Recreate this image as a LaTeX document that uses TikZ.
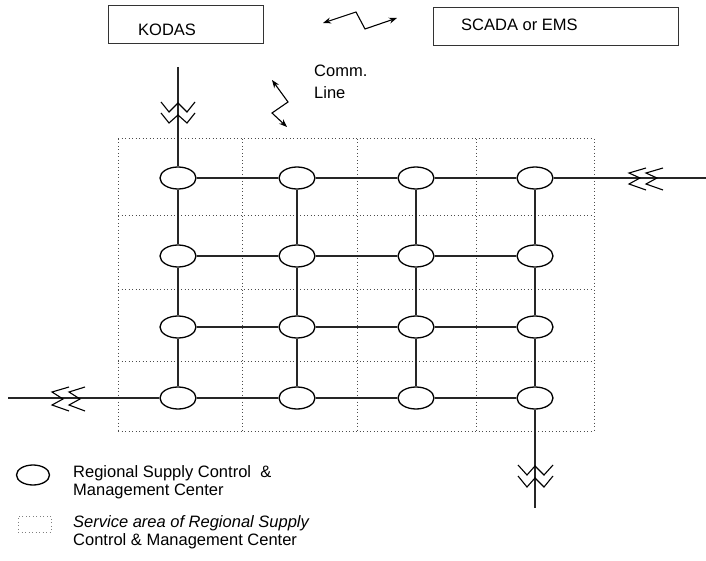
\documentclass[tikz,border=0pt]{standalone}
\usepackage{fontspec}
\setmainfont{Liberation Sans}
\usetikzlibrary{shapes.geometric,arrows.meta}
\begin{document}
\begin{tikzpicture}[x=1pt,y=-1pt,
  line/.style={line width=1.1pt, black!85},
  center/.style={draw=black, line width=1.3pt, ellipse, minimum width=36pt, minimum height=22pt, inner sep=0pt, fill=white},
  sysbox/.style={draw=black!80, line width=1pt, rectangle, inner sep=0pt},
  area/.style={draw=black!70, line width=1pt, dash pattern=on 1pt off 2.5pt},
  brk/.style={line width=1.1pt, black, line join=miter},
  comm/.style={line width=1.1pt, black, {Stealth[length=8pt,width=6pt]}-{Stealth[length=8pt,width=6pt]}},
  lbl/.style={font=\fontsize{16.5}{18}\selectfont, inner sep=0pt, align=left}
]
\useasboundingbox (0,0) rectangle (706,561);

% top systems
\node[sysbox, anchor=north west, minimum width=155pt, minimum height=38pt] (kodas) at (108,5) {};
\node[lbl, anchor=base west] (kodastxt) at (138,36) {KODAS};
\node[sysbox, anchor=north west, minimum width=245pt, minimum height=38pt] (scada) at (433,7) {};
\node[lbl, anchor=base west] (scadatxt) at (461,31) {SCADA or EMS};

% communication lines
\coordinate (c1a) at (323,23);
\coordinate (c1b) at (356,12);
\coordinate (c1c) at (365,29);
\coordinate (c1d) at (397,18);
\draw[comm] (c1a) -- (c1b) -- (c1c) -- (c1d);
\coordinate (c2a) at (272,80);
\coordinate (c2b) at (288,102);
\coordinate (c2c) at (272,113);
\coordinate (c2d) at (287,127);
\draw[comm] (c2a) -- (c2b) -- (c2c) -- (c2d);
\node[lbl, anchor=north west, font=\fontsize{16.5}{22}\selectfont] (commtxt) at (314,64.5) {Comm.\\Line};

% service areas
\foreach \x in {118,242,357,476,594} \draw[area] (\x,139) -- (\x,431);
\foreach \y in {139,216,289,361,431} \draw[area] (118,\y) -- (594,\y);

% centers
\foreach \r/\y in {1/178,2/256,3/327,4/398}
  \foreach \c/\x in {1/178,2/297,3/416,4/535}
    \node[center] (n\r\c) at (\x,\y) {};

\foreach \r in {1,...,4}
  \foreach \a/\b in {1/2,2/3,3/4}
    \draw[line] (n\r\a) -- (n\r\b);
\foreach \c in {1,...,4}
  \foreach \a/\b in {1/2,2/3,3/4}
    \draw[line] (n\a\c) -- (n\b\c);

% external links
\coordinate (topE) at (178,67);
\coordinate (rightE) at (706,178);
\coordinate (leftE) at (8,398);
\coordinate (botE) at (535,508);
\draw[line] (topE) -- (n11);
\draw[line] (n14) -- (rightE);
\draw[line] (leftE) -- (n41);
\draw[line] (n44) -- (botE);

% break symbols
\draw[brk] (161,102) -- (169,112) -- (178,103) -- (187,112) -- (195,102);
\draw[brk] (161,113) -- (169,123) -- (178,115) -- (187,123) -- (195,113);
\draw[brk] (518,465) -- (527,475) -- (535,466) -- (544,475) -- (553,465);
\draw[brk] (518,476) -- (527,487) -- (535,478) -- (544,487) -- (553,476);
\draw[brk] (646,168) -- (629,173) -- (640,178) -- (629,184) -- (646,190);
\draw[brk] (663,168) -- (646,173) -- (657,178) -- (646,184) -- (663,190);
\draw[brk] (69,387) -- (52,392) -- (63,399) -- (52,405) -- (69,411);
\draw[brk] (85,387) -- (69,392) -- (80,399) -- (69,405) -- (85,411);

% legend
\node[center, minimum width=33pt, minimum height=20pt] (legc) at (33,475) {};
\node[lbl, anchor=north west] (legctxt) at (73,465) {Regional Supply Control\ \ \&\\Management Center};
\node[area, draw=black!50, rectangle, minimum width=33pt, minimum height=16pt, inner sep=0pt] (lega) at (34.5,524) {};
\node[lbl, anchor=north west] (legatxt) at (73,515) {\textit{Service area of Regional Supply}\\Control \& Management Center};
\end{tikzpicture}
\end{document}
